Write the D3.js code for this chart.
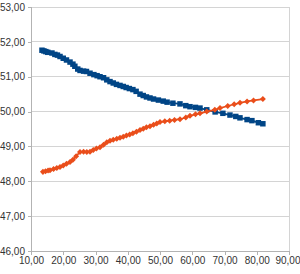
<!DOCTYPE html>
<html>
<head>
<meta charset="utf-8">
<script src="https://cdn.jsdelivr.net/npm/d3@7"></script>
<style>
  body { margin: 0; background: #fff; }
  text { font-family: "Liberation Sans", Arial, sans-serif; }
</style>
</head>
<body>
<script>
// series 1 (blue squares)
const blueX = [13.4, 14.0, 14.6, 15.2, 16.5, 17.4, 18.2, 19.0, 20.0, 21.0, 22.1, 23.0, 23.6, 24.5, 25.2, 26.3, 27.2, 28.3, 29.5, 30.5,
  31.4, 32.5, 33.5, 34.5, 35.5, 36.5, 37.6, 38.6, 39.5, 40.5, 41.6, 42.6, 43.8, 44.8, 45.8, 46.9, 48.0, 49.5, 51.0, 52.2,
  54.0, 56.2, 58.0, 59.3, 61.0, 62.4, 64.5, 67.1, 69.5, 71.7, 73.5, 74.8, 77.0, 78.5, 80.5, 81.9];
const blueY = [51.76, 51.74, 51.72, 51.70, 51.68, 51.64, 51.62, 51.58, 51.53, 51.48, 51.42, 51.36, 51.30, 51.22, 51.18, 51.16, 51.15, 51.10, 51.06, 51.03,
  51.00, 50.97, 50.91, 50.86, 50.82, 50.78, 50.75, 50.72, 50.69, 50.66, 50.63, 50.58, 50.50, 50.46, 50.42, 50.39, 50.36, 50.33, 50.30, 50.27,
  50.24, 50.22, 50.17, 50.14, 50.12, 50.10, 50.05, 49.99, 49.95, 49.90, 49.86, 49.82, 49.77, 49.74, 49.68, 49.65];

// series 2 (orange diamonds)
const orangeX = [13.7, 14.5, 15.3, 15.9, 17.0, 18.0, 19.0, 20.0, 21.0, 22.1, 23.0, 24.0, 25.2, 26.3, 27.3, 28.3, 29.3, 30.3, 31.4, 32.5,
  33.5, 34.5, 35.5, 36.6, 37.6, 38.6, 39.6, 40.6, 41.6, 42.7, 43.8, 44.8, 45.8, 46.9, 48.0, 49.0, 50.0, 51.5, 53.0, 54.5,
  56.2, 58.0, 59.3, 61.0, 62.4, 64.5, 67.0, 68.6, 71.0, 73.0, 74.8, 77.0, 79.0, 81.9];
const orangeY = [48.27, 48.29, 48.31, 48.32, 48.35, 48.38, 48.41, 48.45, 48.50, 48.55, 48.62, 48.72, 48.84, 48.85, 48.84, 48.85, 48.90, 48.94, 48.98, 49.05,
  49.12, 49.16, 49.19, 49.22, 49.25, 49.28, 49.31, 49.34, 49.38, 49.42, 49.47, 49.51, 49.55, 49.58, 49.62, 49.66, 49.70, 49.72, 49.74, 49.76,
  49.78, 49.83, 49.88, 49.92, 49.95, 50.00, 50.05, 50.10, 50.16, 50.21, 50.25, 50.29, 50.32, 50.36];

const xTicks = [10, 20, 30, 40, 50, 60, 70, 80, 90];
const yTicks = [46, 47, 48, 49, 50, 51, 52, 53];

const width = 300, height = 274;
const margin = {left: 31, right: 11, top: 7, bottom: 23};

const fmt = d => d3.format(".2f")(d).replace(".", ",");

const svg = d3.select("body").append("svg")
  .attr("width", width)
  .attr("height", height);

const x = d3.scaleLinear().domain([10, 90]).range([margin.left, width - margin.right]);
const y = d3.scaleLinear().domain([46, 53]).range([height - margin.bottom, margin.top]);

// grid
svg.append("g")
  .selectAll("line")
  .data(yTicks)
  .enter().append("line")
  .attr("x1", x(10)).attr("x2", x(90))
  .attr("y1", d => y(d)).attr("y2", d => y(d))
  .attr("stroke", "#d4d4d4")
  .attr("stroke-width", 1)
  .attr("shape-rendering", "crispEdges");

svg.append("line")
  .attr("x1", x(90)).attr("x2", x(90))
  .attr("y1", y(46)).attr("y2", y(53))
  .attr("stroke", "#d4d4d4")
  .attr("shape-rendering", "crispEdges");

// axes
const xAxis = svg.append("g")
  .attr("transform", `translate(0,${y(46)})`)
  .call(d3.axisBottom(x).tickValues(xTicks).tickFormat(fmt).tickSizeOuter(0).tickSize(4));
const yAxis = svg.append("g")
  .attr("transform", `translate(${x(10)},0)`)
  .call(d3.axisLeft(y).tickValues(yTicks).tickFormat(fmt).tickSizeOuter(0).tickSize(3));

[xAxis, yAxis].forEach(g => {
  g.select(".domain").attr("stroke", "#b3b3b3").attr("shape-rendering", "crispEdges");
  g.selectAll(".tick line").attr("stroke", "#b3b3b3").attr("shape-rendering", "crispEdges");
  g.selectAll(".tick text").attr("fill", "#333").attr("font-size", 10)
    .attr("font-family", "Liberation Sans, Arial, sans-serif");
});
xAxis.selectAll(".tick text").attr("dy", "0.95em").attr("y", 3);
// last label sits at the window edge, as in the reference; keep it inside
xAxis.selectAll(".tick text").filter(d => d === 90).attr("text-anchor", "end").attr("x", 11);
yAxis.selectAll(".tick text").attr("x", -6);

const line = d3.line().x(d => x(d[0])).y(d => y(d[1]));

const blue = blueX.map((v, i) => [v, blueY[i]]);
const orange = orangeX.map((v, i) => [v, orangeY[i]]);

// blue series
svg.append("path")
  .datum(blue)
  .attr("d", line)
  .attr("fill", "none")
  .attr("stroke", "#004586")
  .attr("stroke-width", 1.8);

svg.append("g")
  .selectAll("path")
  .data(blue)
  .enter().append("path")
  .attr("d", d3.symbol(d3.symbolSquare, 30))
  .attr("transform", d => `translate(${x(d[0])},${y(d[1])})`)
  .attr("fill", "#004586");

// orange series
svg.append("path")
  .datum(orange)
  .attr("d", line)
  .attr("fill", "none")
  .attr("stroke", "#ea4e1b")
  .attr("stroke-width", 1.8);

svg.append("g")
  .selectAll("path")
  .data(orange)
  .enter().append("path")
  .attr("d", d3.symbol(d3.symbolSquare, 18))
  .attr("transform", d => `translate(${x(d[0])},${y(d[1])}) rotate(45)`)
  .attr("fill", "#ea4e1b");
</script>
</body>
</html>
